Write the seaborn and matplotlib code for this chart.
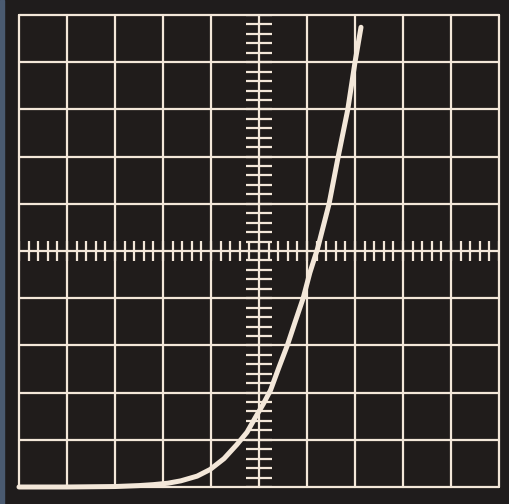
import numpy as np
import pandas as pd
import matplotlib
matplotlib.use("Agg")
import matplotlib.pyplot as plt
import seaborn as sns

# trace, in divisions
trace_x = [-5.0, -4.0, -3.0, -2.5, -2.2, -1.9, -1.63, -1.29, -1.02, -0.73, -0.46,
           -0.25, -0.06, 0.09, 0.24, 0.41, 0.59, 0.76, 0.92, 1.06, 1.22, 1.46,
           1.65, 1.85, 2.0, 2.125]
trace_y = [-5.0, -5.0, -4.99, -4.97, -4.95, -4.92, -4.87, -4.77, -4.63, -4.40, -4.10,
           -3.84, -3.50, -3.24, -2.95, -2.48, -2.0, -1.48, -1.0, -0.46, 0.05, 1.0,
           2.0, 3.0, 4.0, 4.74]

divisions = list(range(-5, 6))

ink = "#f3e7d9"
screen = "#201c1b"

sns.set_style("dark")
fig = plt.figure(figsize=(5.10, 5.04), dpi=100, facecolor="#1f1c1c")
ax = fig.add_axes([19 / 510, 17 / 504, 480 / 510, 472 / 504])
ax.set_facecolor(screen)

# graticule
for d in divisions:
    ax.axvline(d, color=ink, lw=1.6, zorder=1, clip_on=False)
    ax.axhline(d, color=ink, lw=1.6, zorder=1, clip_on=False)

# minor marks on the centre lines
minor = np.arange(-5, 5.01, 0.2)
ax.vlines(minor, -0.22, 0.22, color=ink, lw=1.6, zorder=1)
ax.hlines(minor, -0.27, 0.27, color=ink, lw=1.6, zorder=1)

df = pd.DataFrame({"x": trace_x, "y": trace_y})
sns.lineplot(data=df, x="x", y="y", sort=False, color=ink, lw=3.6,
             solid_capstyle="round", solid_joinstyle="round", ax=ax,
             zorder=3, clip_on=False)

ax.set_xlim(-5, 5)
ax.set_ylim(-5, 5)
ax.set_xticks([])
ax.set_yticks([])
ax.set_xlabel("")
ax.set_ylabel("")
for s in ax.spines.values():
    s.set_visible(False)

# faint bluish edge of the photo
fig.patches.append(plt.Rectangle((0, 0), 4 / 510, 1, transform=fig.transFigure,
                                 color="#4a5a70", zorder=0))

fig.savefig("out.png", dpi=100, facecolor=fig.get_facecolor())
